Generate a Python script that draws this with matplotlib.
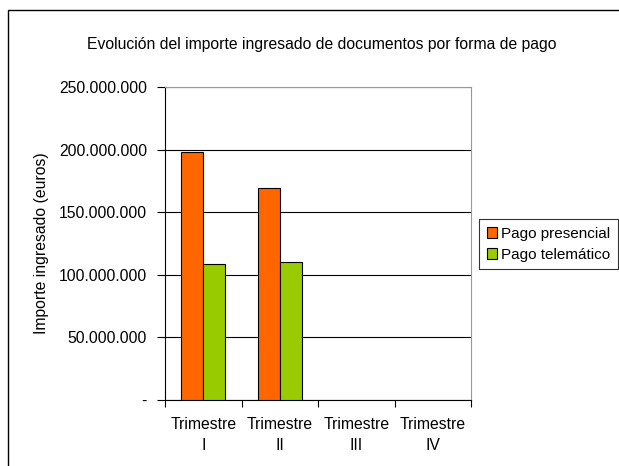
import numpy as np
import matplotlib
matplotlib.use('Agg')
from matplotlib import pyplot as plt
from matplotlib.patches import Rectangle
from matplotlib.ticker import FuncFormatter, FixedLocator

plt.rcParams['font.family'] = ['Liberation Sans', 'DejaVu Sans']

categories = ['Trimestre\nI', 'Trimestre\nII', 'Trimestre\nIII', 'Trimestre\nIV']
presencial = [198000000, 169500000, np.nan, np.nan]
telematico = [108500000, 110000000, np.nan, np.nan]
series_names = ['Pago presencial', 'Pago telemático']
colors = ['#ff6600', '#99cc00']

W, H = 619, 466
FS = 11.3
fig = plt.figure(figsize=(W / 100, H / 100), dpi=100)

# borde del gráfico (recortado a la derecha y abajo)
fig.patches.append(Rectangle((8 / W, -0.1), 1.2, 1 - 10 / H + 0.1,
                             transform=fig.transFigure, fill=False,
                             ec='black', lw=1.0))

ax = fig.add_axes([165 / W, 1 - 400 / H, (471 - 165) / W, (400 - 87) / H])

x = np.arange(len(categories))
bw = 0.29
ax.bar(x - bw / 2, presencial, bw, color=colors[0], edgecolor='black',
       linewidth=0.8, label=series_names[0], zorder=3)
ax.bar(x + bw / 2, telematico, bw, color=colors[1], edgecolor='black',
       linewidth=0.8, label=series_names[1], zorder=3)

ax.set_xlim(-0.5, len(categories) - 0.5)
ax.set_ylim(0, 250000000)
ax.set_yticks(np.arange(0, 250000001, 50000000))


def fmt(v, pos):
    if v == 0:
        return '-'
    return '{:,.0f}'.format(v).replace(',', '.')


ax.yaxis.set_major_formatter(FuncFormatter(fmt))
ax.grid(axis='y', color='black', linewidth=0.8, zorder=0)

ax.xaxis.set_major_locator(FixedLocator(np.arange(-0.5, len(categories), 1.0)))
ax.xaxis.set_major_formatter(FuncFormatter(lambda v, p: ''))
ax.xaxis.set_minor_locator(FixedLocator(x))
ax.set_xticklabels(categories, minor=True, linespacing=1.5)
ax.tick_params(axis='x', which='major', direction='out', length=5, width=0.8)
ax.tick_params(axis='x', which='minor', length=0, pad=12, labelsize=FS)
ax.tick_params(axis='y', direction='out', length=6, width=0.8, labelsize=FS, pad=7)

for s in ['top', 'right']:
    ax.spines[s].set_color('#999999')
for s in ['left', 'bottom']:
    ax.spines[s].set_color('black')

fig.text(42 / W, 1 - 243 / H, 'Importe ingresado (euros)', rotation=90,
         ha='center', va='center', fontsize=FS)
fig.text(0.5 * (87 + 556) / W, 1 - 44 / H,
         'Evolución del importe ingresado de documentos por forma de pago',
         ha='center', va='center', fontsize=FS)

leg = fig.legend(loc='upper right', bbox_to_anchor=(618 / W, 1 - 219 / H),
                 frameon=True, fancybox=False, fontsize=11,
                 handlelength=0.7, handleheight=0.7, handletextpad=0.25,
                 borderpad=0.5, labelspacing=0.45, borderaxespad=0)
leg.get_frame().set_edgecolor('black')
leg.get_frame().set_linewidth(0.8)

fig.savefig('out.png', dpi=100)
